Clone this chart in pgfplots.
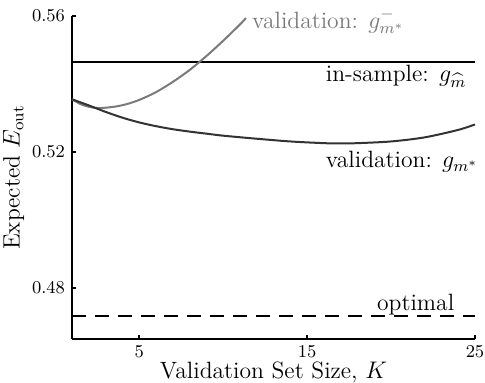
\documentclass[border=0pt]{standalone}
\usepackage{pgfplots}
\pgfplotsset{compat=1.18}
\definecolor{darkc}{HTML}{333333}
\definecolor{grayc}{HTML}{7A7A7A}
\begin{document}
\begin{tikzpicture}
\begin{axis}[
  scale only axis,
  width=201.5pt, height=161.5pt,
  xmin=1, xmax=25, ymin=0.465, ymax=0.56,
  axis lines*=left,
  axis line style={line width=1pt},
  tick align=inside,
  major tick length=2pt,
  tick style={line width=0.8pt, black},
  xtick={5,15,25},
  ytick={0.48,0.52,0.56},
  yticklabel style={/pgf/number format/.cd, fixed, precision=2, fixed zerofill},
  ticklabel style={font=\fontsize{9}{10}\selectfont},
  xticklabel style={yshift=0pt},
  xlabel={Validation Set Size, $K$},
  ylabel={Expected $E_{\mathrm{out}}$},
  label style={font=\fontsize{11.8}{13}\selectfont},
  xlabel style={yshift=5pt},
  ylabel style={yshift=-3pt},
  clip=false,
]
% in-sample
\addplot[black, line width=1pt] coordinates {(1,0.5464) (25,0.5464)};
% optimal
\addplot[black, line width=1pt, dash pattern=on 7pt off 4.5pt] coordinates {(1,0.4718) (25,0.4718)};
% validation g^-_{m*}
\addplot[grayc, line width=1pt, smooth, tension=0.5] coordinates {
 (1,0.5355) (1.5,0.5341) (2,0.5333) (2.6,0.5329) (3.5,0.5333) (4.2,0.5340)
 (5,0.5353) (6,0.5376) (7,0.5406) (8,0.5441) (9,0.5482) (10,0.5527) (11,0.5575) (11.36,0.5594)};
% validation g_{m*}
\addplot[darkc, line width=1pt, smooth, tension=0.5] coordinates {
 (1,0.5355) (2,0.5337) (3,0.5318) (4,0.5301) (5,0.5287) (6,0.5276) (7,0.5267)
 (8,0.5260) (9,0.5254) (10,0.5248) (12,0.5239) (14,0.5231) (16,0.5226) (17,0.5225)
 (18,0.5226) (20,0.5231) (22,0.5243) (24,0.5265) (25,0.5281)};
\node[anchor=base west, text=grayc, inner sep=0pt, font=\fontsize{11.8}{13}\selectfont] at (axis cs:11.7,0.5562) {validation: $g^-_{m^*}$};
\node[anchor=base west, inner sep=0pt, font=\fontsize{11.8}{13}\selectfont] at (axis cs:16.1,0.5407) {in-sample: $g_{\widehat{m}}$};
\node[anchor=base west, inner sep=0pt, font=\fontsize{11.8}{13}\selectfont] at (axis cs:16.1,0.5154) {validation: $g_{m^*}$};
\node[anchor=base west, inner sep=0pt, font=\fontsize{11.8}{13}\selectfont] at (axis cs:19.15,0.4735) {optimal};
\end{axis}
\pgfresetboundingbox
\path ([xshift=-36pt,yshift=-22pt]current axis.south west) rectangle ([xshift=5pt,yshift=8pt]current axis.north east);
\end{tikzpicture}
\end{document}
